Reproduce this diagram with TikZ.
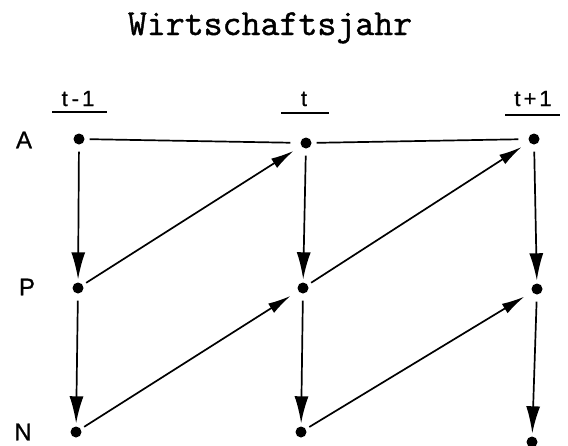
\documentclass[tikz,border=0pt]{standalone}
\usepackage{fontspec}
\newfontfamily\labfont{Liberation Sans}[FakeBold=0.8]
\newfontfamily\twfont{Latin Modern Mono}[FakeBold=1.2]
\usetikzlibrary{arrows.meta}
\begin{document}
\begin{tikzpicture}[x=1pt,y=-1pt,
  dot/.style={circle,fill=black,inner sep=0pt,minimum size=11pt},
  rowlab/.style={font=\labfont\fontsize{24}{26}\selectfont},
  collab/.style={font=\labfont\fontsize{22}{24}\selectfont,anchor=base},
  uline/.style={line width=1.8pt},
  link/.style={line width=1.7pt},
  varr/.style={link,shorten <=7pt,shorten >=3pt,-{Latex[length=27pt,width=14pt]}},
  darr/.style={link,shorten <=4pt,shorten >=9pt,-{Latex[length=23pt,width=11pt]}},
  hline/.style={link,shorten <=5pt,shorten >=10pt}]
\useasboundingbox (0,0) rectangle (568,445);
\node[font=\twfont\fontsize{36.8}{40}\selectfont,anchor=base] (title) at (270,35) {Wirtschaftsjahr};
% column labels
\node[collab] (c1) at (78,106) {t\hspace{4pt}-\hspace{3pt}1};
\node[collab] (c2) at (304,106) {t};
\node[collab] (c3) at (533,106) {t\hspace{3pt}+\hspace{3pt}1};
\draw[uline] (52,112) -- (107,112);
\draw[uline] (281,113) -- (329,113);
\draw[uline] (505,115) -- (560,115);
% row labels
\node[rowlab] (la) at (24,140) {A};
\node[rowlab] (lp) at (27,287) {P};
\node[rowlab] (ln) at (23,432) {N};
% dots
\node[dot] (a1) at (79,139) {};
\node[dot] (a2) at (306,143) {};
\node[dot] (a3) at (534,139) {};
\node[dot] (p1) at (78,288) {};
\node[dot] (p2) at (303,288) {};
\node[dot] (p3) at (537,289) {};
\node[dot] (n1) at (76,432) {};
\node[dot] (n2) at (301,432) {};
\node[dot] (n3) at (532,442) {};
% horizontal lines
\draw[hline] (a1) -- (a2);
\draw[hline] (a2) -- (a3);
% vertical arrows
\draw[varr] (a1) -- (p1);
\draw[varr] (a2) -- (p2);
\draw[varr] (a3) -- (p3);
\draw[varr] (p1) -- (n1);
\draw[varr] (p2) -- (n2);
\draw[varr] (p3) -- (n3);
% diagonal arrows
\draw[darr] (p1) -- (a2);
\draw[darr] (p2) -- (a3);
\draw[darr] (n1) -- (p2);
\draw[darr] (n2) -- (p3);
\end{tikzpicture}
\end{document}
